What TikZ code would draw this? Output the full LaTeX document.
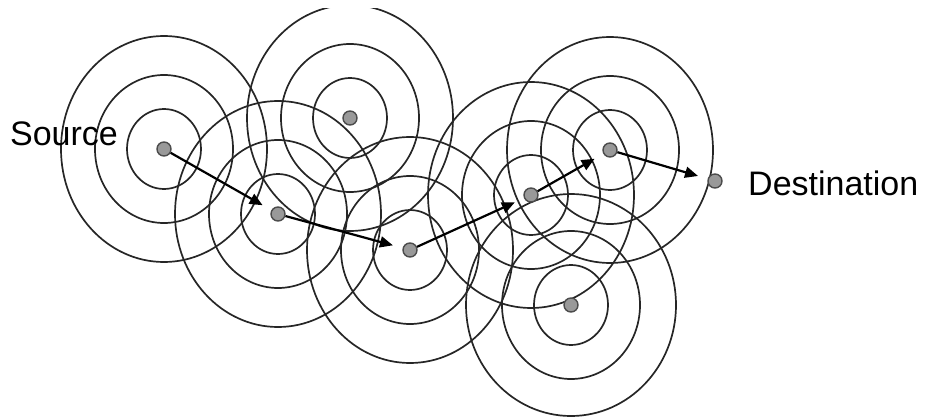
\documentclass[tikz,border=0pt]{standalone}
\usepackage{fontspec}
\setmainfont{Liberation Sans}
\usetikzlibrary{arrows.meta}

\begin{document}
\begin{tikzpicture}[
        x=1pt, y=-1pt,
        dev/.style={draw=black!70, line width=1.4pt, fill=black!40, circle, minimum size=14pt, inner sep=0pt},
        ring/.style={draw=black!85, line width=1.7pt},
        hop/.style={-{Triangle[length=13pt, width=11pt]}, line width=2.2pt, shorten >=10pt},
        lbl/.style={font=\fontsize{34}{40}\selectfont, inner sep=0pt}
    ]

    \useasboundingbox (0,0) rectangle (926,417);

    % Relay nodes
    \coordinate (src) at (164,149);
    \coordinate (top) at (350,118);
    \coordinate (n3) at (278,214);
    \coordinate (n4) at (410,250);
    \coordinate (n5) at (531,195);
    \coordinate (n6) at (610,150);
    \coordinate (dst) at (715,181);
    \coordinate (bot) at (571,305);

    % Radio ranges
    \begin{scope}
        \clip (0,9) rectangle (926,417);
        \draw[ring] (src) ellipse [x radius=37pt, y radius=40pt] (src) ellipse [x radius=69pt, y radius=74pt] (src) ellipse [x radius=103pt, y radius=113pt];
        \draw[ring] (top) ellipse [x radius=37pt, y radius=40pt] (top) ellipse [x radius=69pt, y radius=74pt] (top) ellipse [x radius=103pt, y radius=113pt];
        \draw[ring] (n3) ellipse [x radius=37pt, y radius=40pt] (n3) ellipse [x radius=69pt, y radius=74pt] (n3) ellipse [x radius=103pt, y radius=113pt];
        \draw[ring] (n4) ellipse [x radius=37pt, y radius=40pt] (n4) ellipse [x radius=69pt, y radius=74pt] (n4) ellipse [x radius=103pt, y radius=113pt];
        \draw[ring] (n5) ellipse [x radius=37pt, y radius=40pt] (n5) ellipse [x radius=69pt, y radius=74pt] (n5) ellipse [x radius=103pt, y radius=113pt];
        \draw[ring] (n6) ellipse [x radius=37pt, y radius=40pt] (n6) ellipse [x radius=69pt, y radius=74pt] (n6) ellipse [x radius=103pt, y radius=113pt];
        \draw[ring] (bot) ellipse [x radius=37pt, y radius=40pt] (bot) ellipse [x radius=69pt, y radius=74pt] (bot) ellipse [x radius=105pt, y radius=111pt];
    \end{scope}

    % Devices
    \node[dev] (source) at (src) {};
    \node[dev] (topdev) at (top) {};
    \node[dev] (hop1) at (n3) {};
    \node[dev] (hop2) at (n4) {};
    \node[dev] (hop3) at (n5) {};
    \node[dev] (hop4) at (n6) {};
    \node[dev] (dest) at (dst) {};
    \node[dev] (botdev) at (bot) {};

    % Route
    \draw[hop] (source) -- (hop1);
    \draw[hop] (hop1) -- (hop2);
    \draw[hop] (hop2) -- (hop3);
    \draw[hop] (hop3) -- (hop4);
    \draw[hop] (hop4) -- (dest);

    % Labels
    \node[lbl, anchor=east] (srclabel) at (118,134) {Source};
    \node[lbl, anchor=west] (dstlabel) at (748,183) {Destination};

\end{tikzpicture}
\end{document}
